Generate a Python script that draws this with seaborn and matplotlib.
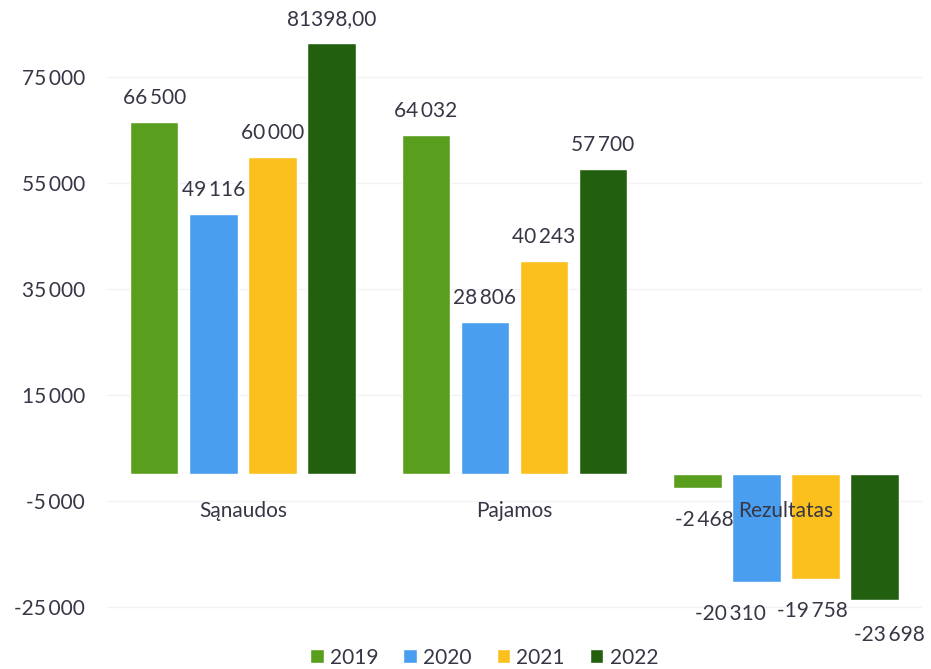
import pandas as pd
import matplotlib.pyplot as plt
import matplotlib.ticker as mticker
import seaborn as sns

# chart data
categories = ['Sąnaudos', 'Pajamos', 'Rezultatas']
years = ['2019', '2020', '2021', '2022']
values_2019 = [66500, 64032, -2468]
values_2020 = [49116, 28806, -20310]
values_2021 = [60000, 40243, -19758]
values_2022 = [81398, 57700, -23698]
y_ticks = [-25000, -5000, 15000, 35000, 55000, 75000]

colors = ['#5a9e1e', '#4a9ef0', '#fbbf1e', '#22600f']
text_color = '#363645'

# the negative labels were nudged sideways in the original (points)
neg_shift = {'2019': (5, -6), '2020': (-19, -6), '2021': (-2, -6), '2022': (11, -8)}


def fmt_space(v, pos=None):
    return f'{v:,.0f}'.replace(',', '\u2009')


def fmt_label(v, cat, year):
    # one label in the source was shown with decimals
    if cat == 'Sąnaudos' and year == '2022':
        return f'{v:.2f}'.replace('.', ',')
    return fmt_space(v)


series = dict(zip(years, [values_2019, values_2020, values_2021, values_2022]))
df = pd.DataFrame([
    {'kategorija': c, 'metai': y, 'suma': series[y][i]}
    for y in years for i, c in enumerate(categories)
])

sns.set_style('white')
plt.rcParams['font.family'] = ['Lato', 'DejaVu Sans']

fig = plt.figure(figsize=(9.31, 6.69), dpi=100)
ax = fig.add_axes([0.115, 0.077, 0.875, 0.887])

sns.barplot(data=df, x='kategorija', y='suma', hue='metai', order=categories,
            hue_order=years, palette=colors, saturation=1, width=0.87, gap=0.18,
            errorbar=None, ax=ax, legend=True)

for year, cont in zip(years, ax.containers):
    for bar, v, c in zip(cont, series[year], categories):
        x = bar.get_x() + bar.get_width() / 2
        if v >= 0:
            ax.annotate(fmt_label(v, c, year), (x, v), xytext=(0, 10),
                        textcoords='offset points', ha='center', va='bottom',
                        fontsize=15, color=text_color)
        else:
            dx, dy = neg_shift[year]
            ax.annotate(fmt_label(v, c, year), (x, v), xytext=(dx, -10 + dy),
                        textcoords='offset points', ha='center', va='top',
                        fontsize=15, color=text_color)

# category names sit just under the zero line, on top of the bars
for i, c in enumerate(categories):
    ax.annotate(c, (i, 0), xytext=(0, -19), textcoords='offset points',
                ha='center', va='top', fontsize=15, color=text_color, zorder=5)

ax.set_xlim(-0.5, 2.5)
ax.set_ylim(-27000, 85000)
ax.set_xticks([])
ax.set_yticks(y_ticks)
ax.yaxis.set_major_formatter(mticker.FuncFormatter(fmt_space))
ax.grid(axis='y', color='#f2f2f4', linewidth=1)
ax.set_axisbelow(True)

for s in ax.spines.values():
    s.set_visible(False)
ax.tick_params(axis='y', length=0, pad=16, labelsize=15, labelcolor=text_color)
ax.set_xlabel('')
ax.set_ylabel('')

handles, labels = ax.get_legend_handles_labels()
ax.get_legend().remove()
fig.legend(handles, labels, loc='center', bbox_to_anchor=(0.52, 0.017), ncol=4,
           frameon=False, fontsize=15, handlelength=0.65, handleheight=0.65,
           handletextpad=0.3, columnspacing=1.2, labelcolor=text_color)

plt.savefig('out.png', dpi=100)
